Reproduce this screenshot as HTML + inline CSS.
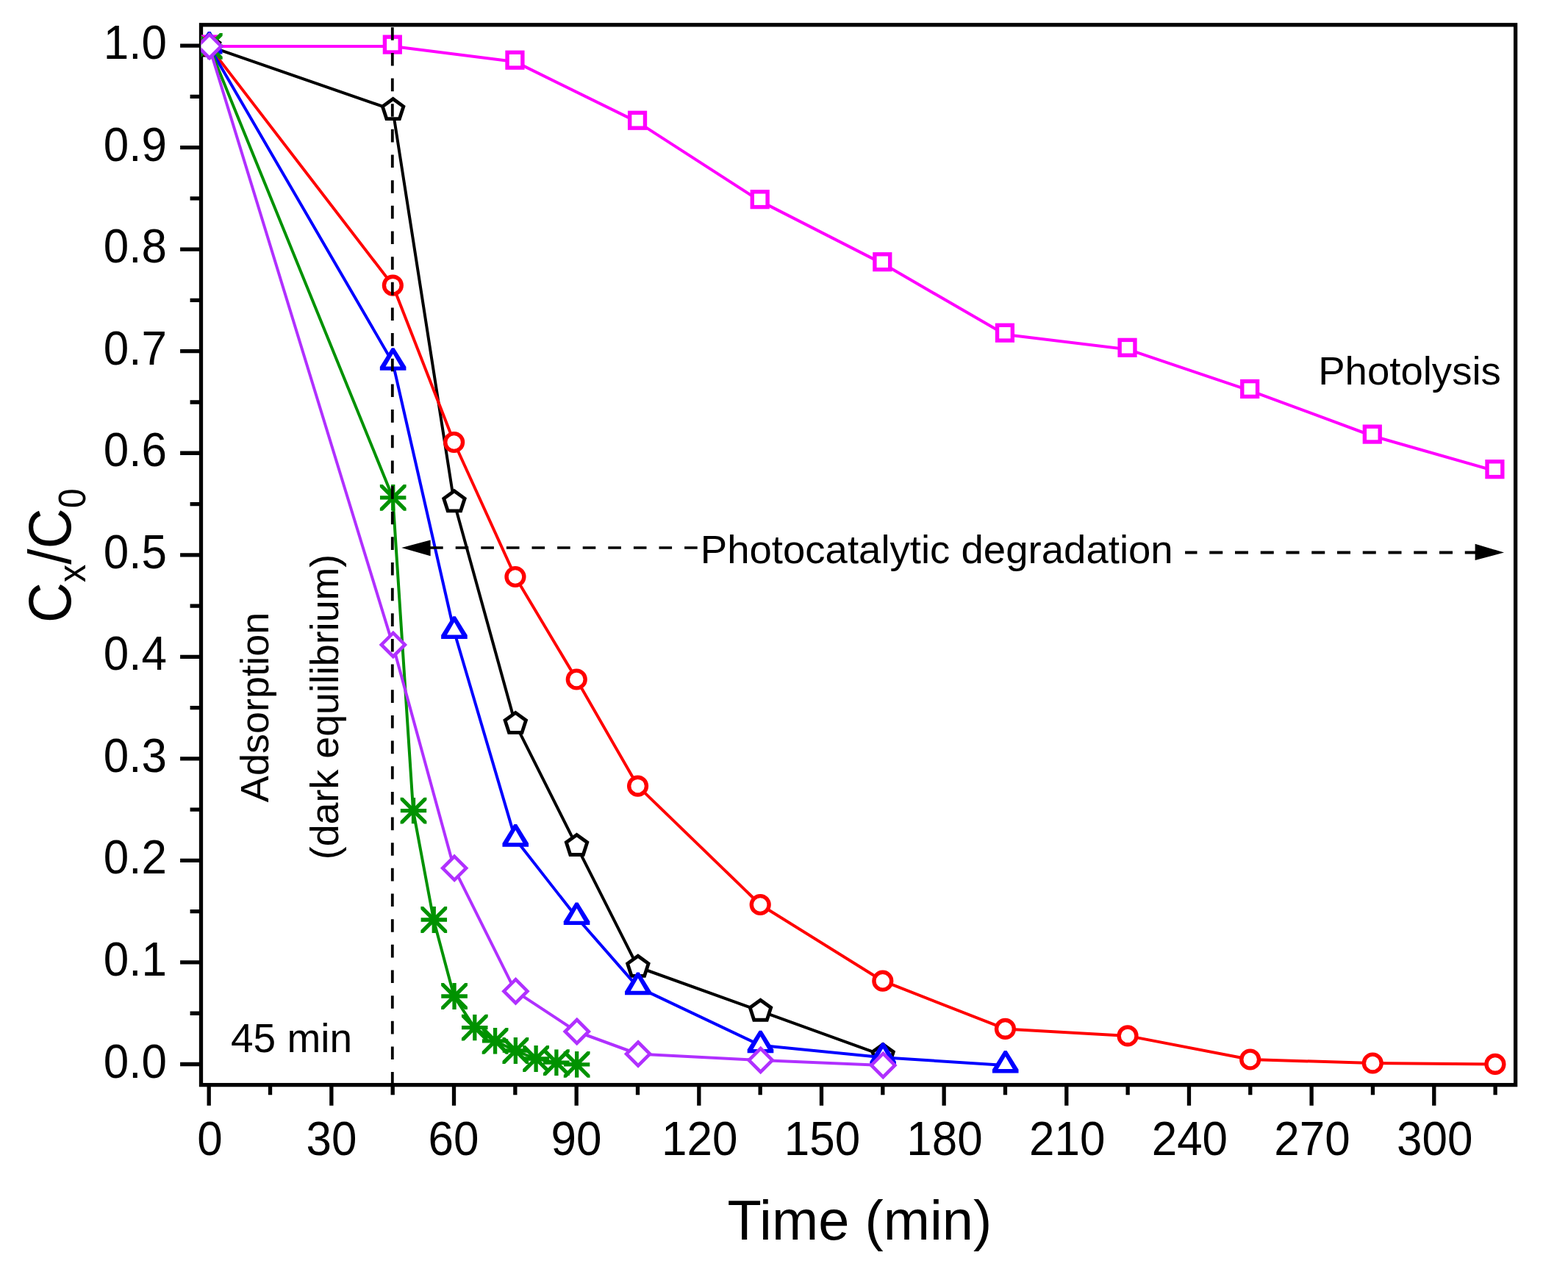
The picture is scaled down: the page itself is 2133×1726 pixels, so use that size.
<!DOCTYPE html>
<html><head><meta charset="utf-8"><title>Cx/C0 vs Time</title>
<style>html,body{margin:0;padding:0;background:#fff;}svg{display:block;}</style>
</head><body>
<svg width="2133" height="1726" viewBox="0 0 2133 1726">
<rect x="0" y="0" width="2133" height="1726" fill="#fff"/>
<path d="M245.1 1447.5H273.5M245.1 1308.96H273.5M245.1 1170.42H273.5M245.1 1031.88H273.5M245.1 893.34H273.5M245.1 754.8H273.5M245.1 616.26H273.5M245.1 477.72H273.5M245.1 339.18H273.5M245.1 200.64H273.5M245.1 62.1H273.5M258.6 1378.23H273.5M258.6 1239.69H273.5M258.6 1101.15H273.5M258.6 962.61H273.5M258.6 824.07H273.5M258.6 685.53H273.5M258.6 546.99H273.5M258.6 408.45H273.5M258.6 269.91H273.5M258.6 131.37H273.5M284.2 1475.6V1503.7M450.86 1475.6V1503.7M617.52 1475.6V1503.7M784.18 1475.6V1503.7M950.84 1475.6V1503.7M1117.49 1475.6V1503.7M1284.15 1475.6V1503.7M1450.81 1475.6V1503.7M1617.47 1475.6V1503.7M1784.13 1475.6V1503.7M1950.79 1475.6V1503.7M367.53 1475.6V1489.2M534.19 1475.6V1489.2M700.85 1475.6V1489.2M867.51 1475.6V1489.2M1034.17 1475.6V1489.2M1200.82 1475.6V1489.2M1367.48 1475.6V1489.2M1534.14 1475.6V1489.2M1700.8 1475.6V1489.2M1867.46 1475.6V1489.2M2034.12 1475.6V1489.2" stroke="#000" stroke-width="5.3" fill="none"/>
<rect x="273.5" y="33.8" width="1788.1" height="1441.8" fill="none" stroke="#000" stroke-width="5.3"/>
<clipPath id="plot"><rect x="273.5" y="33.8" width="1788.1" height="1441.8"/></clipPath>
<g clip-path="url(#plot)">
<polyline points="284.4,62.9 534.33,63 700.95,84.1 867.57,166.15 1034.19,273.6 1200.81,358.6 1367.43,455.1 1534.05,475.2 1700.67,531.4 1867.29,593 2033.91,640.6" fill="none" stroke="#ff00ff" stroke-width="4.0" stroke-linejoin="round"/>
<rect x="273.5" y="50.1" width="20.8" height="20.8" fill="#fff" stroke="#ff00ff" stroke-width="5.4"/>
<rect x="523.43" y="50.2" width="20.8" height="20.8" fill="#fff" stroke="#ff00ff" stroke-width="5.4"/>
<rect x="690.05" y="71.3" width="20.8" height="20.8" fill="#fff" stroke="#ff00ff" stroke-width="5.4"/>
<rect x="856.67" y="153.35" width="20.8" height="20.8" fill="#fff" stroke="#ff00ff" stroke-width="5.4"/>
<rect x="1023.29" y="260.8" width="20.8" height="20.8" fill="#fff" stroke="#ff00ff" stroke-width="5.4"/>
<rect x="1189.91" y="345.8" width="20.8" height="20.8" fill="#fff" stroke="#ff00ff" stroke-width="5.4"/>
<rect x="1356.53" y="442.3" width="20.8" height="20.8" fill="#fff" stroke="#ff00ff" stroke-width="5.4"/>
<rect x="1523.15" y="462.4" width="20.8" height="20.8" fill="#fff" stroke="#ff00ff" stroke-width="5.4"/>
<rect x="1689.77" y="518.6" width="20.8" height="20.8" fill="#fff" stroke="#ff00ff" stroke-width="5.4"/>
<rect x="1856.39" y="580.2" width="20.8" height="20.8" fill="#fff" stroke="#ff00ff" stroke-width="5.4"/>
<rect x="2023.01" y="627.8" width="20.8" height="20.8" fill="#fff" stroke="#ff00ff" stroke-width="5.4"/>
<polyline points="284.4,62.9 534.33,149.5 617.64,682.7 700.95,984.35 784.26,1150.4 867.57,1315.25 1034.19,1375.15 1200.81,1435.35" fill="none" stroke="#000000" stroke-width="4.0" stroke-linejoin="round"/>
<polygon points="284.7,47.95 298.92,58.28 293.49,74.99 275.91,74.99 270.48,58.28" fill="#fff" stroke="#000000" stroke-width="4.8" stroke-linejoin="miter"/>
<polygon points="534.63,134.55 548.85,144.88 543.42,161.59 525.84,161.59 520.41,144.88" fill="#fff" stroke="#000000" stroke-width="4.8" stroke-linejoin="miter"/>
<polygon points="617.94,667.75 632.16,678.08 626.73,694.79 609.15,694.79 603.72,678.08" fill="#fff" stroke="#000000" stroke-width="4.8" stroke-linejoin="miter"/>
<polygon points="701.25,969.4 715.47,979.73 710.04,996.44 692.46,996.44 687.03,979.73" fill="#fff" stroke="#000000" stroke-width="4.8" stroke-linejoin="miter"/>
<polygon points="784.56,1135.45 798.78,1145.78 793.35,1162.49 775.77,1162.49 770.34,1145.78" fill="#fff" stroke="#000000" stroke-width="4.8" stroke-linejoin="miter"/>
<polygon points="867.87,1300.3 882.09,1310.63 876.66,1327.34 859.08,1327.34 853.65,1310.63" fill="#fff" stroke="#000000" stroke-width="4.8" stroke-linejoin="miter"/>
<polygon points="1034.49,1360.2 1048.71,1370.53 1043.28,1387.24 1025.7,1387.24 1020.27,1370.53" fill="#fff" stroke="#000000" stroke-width="4.8" stroke-linejoin="miter"/>
<polygon points="1201.11,1420.4 1215.33,1430.73 1209.9,1447.44 1192.32,1447.44 1186.89,1430.73" fill="#fff" stroke="#000000" stroke-width="4.8" stroke-linejoin="miter"/>
<polyline points="284.4,62.9 534.33,388.1 617.64,601.5 700.95,784.5 784.26,924 867.57,1069.1 1034.19,1230.5 1200.81,1334.2 1367.43,1399.4 1534.05,1408.9 1700.67,1441 1867.29,1446 2033.91,1447.4" fill="none" stroke="#ff0000" stroke-width="4.0" stroke-linejoin="round"/>
<circle cx="284.4" cy="62.9" r="11.9" fill="#fff" stroke="#ff0000" stroke-width="5.4"/>
<circle cx="534.33" cy="388.1" r="11.9" fill="#fff" stroke="#ff0000" stroke-width="5.4"/>
<circle cx="617.64" cy="601.5" r="11.9" fill="#fff" stroke="#ff0000" stroke-width="5.4"/>
<circle cx="700.95" cy="784.5" r="11.9" fill="#fff" stroke="#ff0000" stroke-width="5.4"/>
<circle cx="784.26" cy="924" r="11.9" fill="#fff" stroke="#ff0000" stroke-width="5.4"/>
<circle cx="867.57" cy="1069.1" r="11.9" fill="#fff" stroke="#ff0000" stroke-width="5.4"/>
<circle cx="1034.19" cy="1230.5" r="11.9" fill="#fff" stroke="#ff0000" stroke-width="5.4"/>
<circle cx="1200.81" cy="1334.2" r="11.9" fill="#fff" stroke="#ff0000" stroke-width="5.4"/>
<circle cx="1367.43" cy="1399.4" r="11.9" fill="#fff" stroke="#ff0000" stroke-width="5.4"/>
<circle cx="1534.05" cy="1408.9" r="11.9" fill="#fff" stroke="#ff0000" stroke-width="5.4"/>
<circle cx="1700.67" cy="1441" r="11.9" fill="#fff" stroke="#ff0000" stroke-width="5.4"/>
<circle cx="1867.29" cy="1446" r="11.9" fill="#fff" stroke="#ff0000" stroke-width="5.4"/>
<circle cx="2033.91" cy="1447.4" r="11.9" fill="#fff" stroke="#ff0000" stroke-width="5.4"/>
<polyline points="284.4,62.9 534.33,493.2 617.64,858.3 700.95,1141.1 784.26,1247.5 867.57,1342.6 1034.19,1421.7 1200.81,1438.25 1367.43,1448.9" fill="none" stroke="#0000ff" stroke-width="4.0" stroke-linejoin="round"/>
<polygon points="282.9,42.9 286.5,42.9 302.5,68.7 302.5,73.5 266.9,73.5 266.9,68.7" fill="#0000ff"/><polygon points="284.7,50.9 294.7,68.1 274.7,68.1" fill="#fff"/>
<polygon points="532.83,473.2 536.43,473.2 552.43,499 552.43,503.8 516.83,503.8 516.83,499" fill="#0000ff"/><polygon points="534.63,481.2 544.63,498.4 524.63,498.4" fill="#fff"/>
<polygon points="616.14,838.3 619.74,838.3 635.74,864.1 635.74,868.9 600.14,868.9 600.14,864.1" fill="#0000ff"/><polygon points="617.94,846.3 627.94,863.5 607.94,863.5" fill="#fff"/>
<polygon points="699.45,1121.1 703.05,1121.1 719.05,1146.9 719.05,1151.7 683.45,1151.7 683.45,1146.9" fill="#0000ff"/><polygon points="701.25,1129.1 711.25,1146.3 691.25,1146.3" fill="#fff"/>
<polygon points="782.76,1227.5 786.36,1227.5 802.36,1253.3 802.36,1258.1 766.76,1258.1 766.76,1253.3" fill="#0000ff"/><polygon points="784.56,1235.5 794.56,1252.7 774.56,1252.7" fill="#fff"/>
<polygon points="866.07,1322.6 869.67,1322.6 885.67,1348.4 885.67,1353.2 850.07,1353.2 850.07,1348.4" fill="#0000ff"/><polygon points="867.87,1330.6 877.87,1347.8 857.87,1347.8" fill="#fff"/>
<polygon points="1032.69,1401.7 1036.29,1401.7 1052.29,1427.5 1052.29,1432.3 1016.69,1432.3 1016.69,1427.5" fill="#0000ff"/><polygon points="1034.49,1409.7 1044.49,1426.9 1024.49,1426.9" fill="#fff"/>
<polygon points="1199.31,1418.25 1202.91,1418.25 1218.91,1444.05 1218.91,1448.85 1183.31,1448.85 1183.31,1444.05" fill="#0000ff"/><polygon points="1201.11,1426.25 1211.11,1443.45 1191.11,1443.45" fill="#fff"/>
<polygon points="1365.93,1428.9 1369.53,1428.9 1385.53,1454.7 1385.53,1459.5 1349.93,1459.5 1349.93,1454.7" fill="#0000ff"/><polygon points="1367.73,1436.9 1377.73,1454.1 1357.73,1454.1" fill="#fff"/>
<polyline points="284.4,62.9 534.33,676.8 562.1,1102.6 589.87,1251 617.64,1355 645.41,1397.6 673.18,1415.8 700.95,1429 728.72,1440 756.49,1445.1 784.26,1447.8" fill="none" stroke="#009200" stroke-width="4.0" stroke-linejoin="round"/>
<clipPath id="ca1"><rect x="266.9" y="45" width="35.8" height="35.8"/></clipPath><path d="M266.9 62.9H302.7M284.8 45V80.8M264.9 43L304.7 82.8M264.9 82.8L304.7 43" stroke="#009200" stroke-width="5.3" fill="none" clip-path="url(#ca1)"/>
<clipPath id="ca2"><rect x="516.83" y="658.9" width="35.8" height="35.8"/></clipPath><path d="M516.83 676.8H552.63M534.73 658.9V694.7M514.83 656.9L554.63 696.7M514.83 696.7L554.63 656.9" stroke="#009200" stroke-width="5.3" fill="none" clip-path="url(#ca2)"/>
<clipPath id="ca3"><rect x="544.6" y="1084.7" width="35.8" height="35.8"/></clipPath><path d="M544.6 1102.6H580.4M562.5 1084.7V1120.5M542.6 1082.7L582.4 1122.5M542.6 1122.5L582.4 1082.7" stroke="#009200" stroke-width="5.3" fill="none" clip-path="url(#ca3)"/>
<clipPath id="ca4"><rect x="572.37" y="1233.1" width="35.8" height="35.8"/></clipPath><path d="M572.37 1251H608.17M590.27 1233.1V1268.9M570.37 1231.1L610.17 1270.9M570.37 1270.9L610.17 1231.1" stroke="#009200" stroke-width="5.3" fill="none" clip-path="url(#ca4)"/>
<clipPath id="ca5"><rect x="600.14" y="1337.1" width="35.8" height="35.8"/></clipPath><path d="M600.14 1355H635.94M618.04 1337.1V1372.9M598.14 1335.1L637.94 1374.9M598.14 1374.9L637.94 1335.1" stroke="#009200" stroke-width="5.3" fill="none" clip-path="url(#ca5)"/>
<clipPath id="ca6"><rect x="627.91" y="1379.7" width="35.8" height="35.8"/></clipPath><path d="M627.91 1397.6H663.71M645.81 1379.7V1415.5M625.91 1377.7L665.71 1417.5M625.91 1417.5L665.71 1377.7" stroke="#009200" stroke-width="5.3" fill="none" clip-path="url(#ca6)"/>
<clipPath id="ca7"><rect x="655.68" y="1397.9" width="35.8" height="35.8"/></clipPath><path d="M655.68 1415.8H691.48M673.58 1397.9V1433.7M653.68 1395.9L693.48 1435.7M653.68 1435.7L693.48 1395.9" stroke="#009200" stroke-width="5.3" fill="none" clip-path="url(#ca7)"/>
<clipPath id="ca8"><rect x="683.45" y="1411.1" width="35.8" height="35.8"/></clipPath><path d="M683.45 1429H719.25M701.35 1411.1V1446.9M681.45 1409.1L721.25 1448.9M681.45 1448.9L721.25 1409.1" stroke="#009200" stroke-width="5.3" fill="none" clip-path="url(#ca8)"/>
<clipPath id="ca9"><rect x="711.22" y="1422.1" width="35.8" height="35.8"/></clipPath><path d="M711.22 1440H747.02M729.12 1422.1V1457.9M709.22 1420.1L749.02 1459.9M709.22 1459.9L749.02 1420.1" stroke="#009200" stroke-width="5.3" fill="none" clip-path="url(#ca9)"/>
<clipPath id="ca10"><rect x="738.99" y="1427.2" width="35.8" height="35.8"/></clipPath><path d="M738.99 1445.1H774.79M756.89 1427.2V1463M736.99 1425.2L776.79 1465M736.99 1465L776.79 1425.2" stroke="#009200" stroke-width="5.3" fill="none" clip-path="url(#ca10)"/>
<clipPath id="ca11"><rect x="766.76" y="1429.9" width="35.8" height="35.8"/></clipPath><path d="M766.76 1447.8H802.56M784.66 1429.9V1465.7M764.76 1427.9L804.56 1467.7M764.76 1467.7L804.56 1427.9" stroke="#009200" stroke-width="5.3" fill="none" clip-path="url(#ca11)"/>
<polyline points="284.4,62.9 534.33,876.9 617.64,1180.8 700.95,1348.2 784.26,1403 867.57,1433.5 1034.19,1442 1200.81,1448.9" fill="none" stroke="#b030ff" stroke-width="4.0" stroke-linejoin="round"/>
<polygon points="284.9,46.9 300.9,62.9 284.9,78.9 268.9,62.9" fill="#fff" stroke="#b030ff" stroke-width="4.6" stroke-linejoin="miter"/>
<polygon points="534.83,860.9 550.83,876.9 534.83,892.9 518.83,876.9" fill="#fff" stroke="#b030ff" stroke-width="4.6" stroke-linejoin="miter"/>
<polygon points="618.14,1164.8 634.14,1180.8 618.14,1196.8 602.14,1180.8" fill="#fff" stroke="#b030ff" stroke-width="4.6" stroke-linejoin="miter"/>
<polygon points="701.45,1332.2 717.45,1348.2 701.45,1364.2 685.45,1348.2" fill="#fff" stroke="#b030ff" stroke-width="4.6" stroke-linejoin="miter"/>
<polygon points="784.76,1387 800.76,1403 784.76,1419 768.76,1403" fill="#fff" stroke="#b030ff" stroke-width="4.6" stroke-linejoin="miter"/>
<polygon points="868.07,1417.5 884.07,1433.5 868.07,1449.5 852.07,1433.5" fill="#fff" stroke="#b030ff" stroke-width="4.6" stroke-linejoin="miter"/>
<polygon points="1034.69,1426 1050.69,1442 1034.69,1458 1018.69,1442" fill="#fff" stroke="#b030ff" stroke-width="4.6" stroke-linejoin="miter"/>
<polygon points="1201.31,1432.9 1217.31,1448.9 1201.31,1464.9 1185.31,1448.9" fill="#fff" stroke="#b030ff" stroke-width="4.6" stroke-linejoin="miter"/>
</g>
<path d="M533.8 37.25V54.85M533.8 71.91V89.5M533.8 106.56V124.16M533.8 141.22V158.81M533.8 175.87V193.47M533.8 210.53V228.12M533.8 245.18V262.78M533.8 279.84V297.44M533.8 314.49V332.09M533.8 349.14V366.75M533.8 383.8V401.4M533.8 418.46V436.06M533.8 453.11V470.71M533.8 487.76V505.37M533.8 522.42V540.02M533.8 557.08V574.68M533.8 591.73V609.33M533.8 626.38V643.99M533.8 661.04V678.64M533.8 695.7V713.3M533.8 730.35V747.95M533.8 765V782.61M533.8 799.66V817.26M533.8 834.32V851.92M533.8 868.97V886.57M533.8 903.62V921.23M533.8 938.28V955.88M533.8 972.94V990.54M533.8 1007.59V1025.19M533.8 1042.24V1059.84M533.8 1076.9V1094.5M533.8 1111.56V1129.15M533.8 1146.21V1163.81M533.8 1180.87V1198.46M533.8 1215.52V1233.12M533.8 1250.17V1267.77M533.8 1284.83V1302.43M533.8 1319.49V1337.09M533.8 1354.14V1371.74M533.8 1388.8V1406.39M533.8 1423.45V1441.05M533.8 1458.11V1473.1" stroke="#000" stroke-width="3.8" fill="none"/>
<path d="M581.1 745H602.7M619.7 745H637.3M654.3 745H671.9M688.9 745H706.5M723.5 745H741.1M758.1 745H775.7M792.7 745H810.3M827.3 745H844.9M861.9 745H879.5M896.5 745H914.1M931.1 745H948.7" stroke="#000" stroke-width="3.6" fill="none"/>
<polygon points="546.2,744.9 585.6,734.6 585.6,756.2" fill="#000"/>
<path d="M1612.1 751.5H1628.5M1645.25 751.5H1663.25M1680 751.5H1698M1714.75 751.5H1732.75M1749.5 751.5H1767.5M1784.25 751.5H1802.25M1819 751.5H1837M1853.75 751.5H1871.75M1888.5 751.5H1906.5M1923.25 751.5H1941.25M1958 751.5H1976M1992.75 751.5H2008" stroke="#000" stroke-width="3.8" fill="none"/>
<polygon points="2046,751.5 2006.6,739.8 2006.6,762" fill="#000"/>
<g font-family="'Liberation Sans', Arial, Helvetica, sans-serif" font-size="62" fill="#000"><text transform="translate(227 1465.5) scale(1 1.045)" text-anchor="end">0.0</text><text transform="translate(227 1326.96) scale(1 1.045)" text-anchor="end">0.1</text><text transform="translate(227 1188.42) scale(1 1.045)" text-anchor="end">0.2</text><text transform="translate(227 1049.88) scale(1 1.045)" text-anchor="end">0.3</text><text transform="translate(227 911.34) scale(1 1.045)" text-anchor="end">0.4</text><text transform="translate(227 772.8) scale(1 1.045)" text-anchor="end">0.5</text><text transform="translate(227 634.26) scale(1 1.045)" text-anchor="end">0.6</text><text transform="translate(227 495.72) scale(1 1.045)" text-anchor="end">0.7</text><text transform="translate(227 357.18) scale(1 1.045)" text-anchor="end">0.8</text><text transform="translate(227 218.64) scale(1 1.045)" text-anchor="end">0.9</text><text transform="translate(227 80.1) scale(1 1.045)" text-anchor="end">1.0</text><text transform="translate(285.4 1570.6) scale(1 1.045)" text-anchor="middle">0</text><text transform="translate(451.06 1570.6) scale(1 1.045)" text-anchor="middle">30</text><text transform="translate(617.02 1570.6) scale(1 1.045)" text-anchor="middle">60</text><text transform="translate(784.08 1570.6) scale(1 1.045)" text-anchor="middle">90</text><text transform="translate(951.74 1570.6) scale(1 1.045)" text-anchor="middle">120</text><text transform="translate(1118.39 1570.6) scale(1 1.045)" text-anchor="middle">150</text><text transform="translate(1285.05 1570.6) scale(1 1.045)" text-anchor="middle">180</text><text transform="translate(1451.71 1570.6) scale(1 1.045)" text-anchor="middle">210</text><text transform="translate(1618.37 1570.6) scale(1 1.045)" text-anchor="middle">240</text><text transform="translate(1785.03 1570.6) scale(1 1.045)" text-anchor="middle">270</text><text transform="translate(1951.79 1570.6) scale(1 1.045)" text-anchor="middle">300</text></g>
<text x="1169.4" y="1686.2" text-anchor="middle" font-family="'Liberation Sans', Arial, Helvetica, sans-serif" font-size="75.86" fill="#000">Time (min)</text>
<text transform="translate(95.7 847.2) rotate(-90) scale(1 1.06)" font-family="'Liberation Sans', Arial, Helvetica, sans-serif" font-size="76.5" fill="#000">C<tspan font-size="48.3" dy="19">x</tspan><tspan dy="-19">/C</tspan><tspan font-size="48.3" dy="19">0</tspan></text>
<text x="314" y="1431.2" font-family="'Liberation Sans', Arial, Helvetica, sans-serif" font-size="55" fill="#000">45 min</text>
<text transform="translate(365 961.9) rotate(-90)" text-anchor="middle" font-family="'Liberation Sans', Arial, Helvetica, sans-serif" font-size="54.1" fill="#000">Adsorption</text>
<text transform="translate(460 961.5) rotate(-90)" text-anchor="middle" font-family="'Liberation Sans', Arial, Helvetica, sans-serif" font-size="53.8" fill="#000">(dark equilibrium)</text>
<text x="1793.2" y="523.2" font-family="'Liberation Sans', Arial, Helvetica, sans-serif" font-size="54.55" fill="#000">Photolysis</text>
<text x="952.8" y="766" font-family="'Liberation Sans', Arial, Helvetica, sans-serif" font-size="54.55" fill="#000">Photocatalytic degradation</text>
</svg>
</body></html>
